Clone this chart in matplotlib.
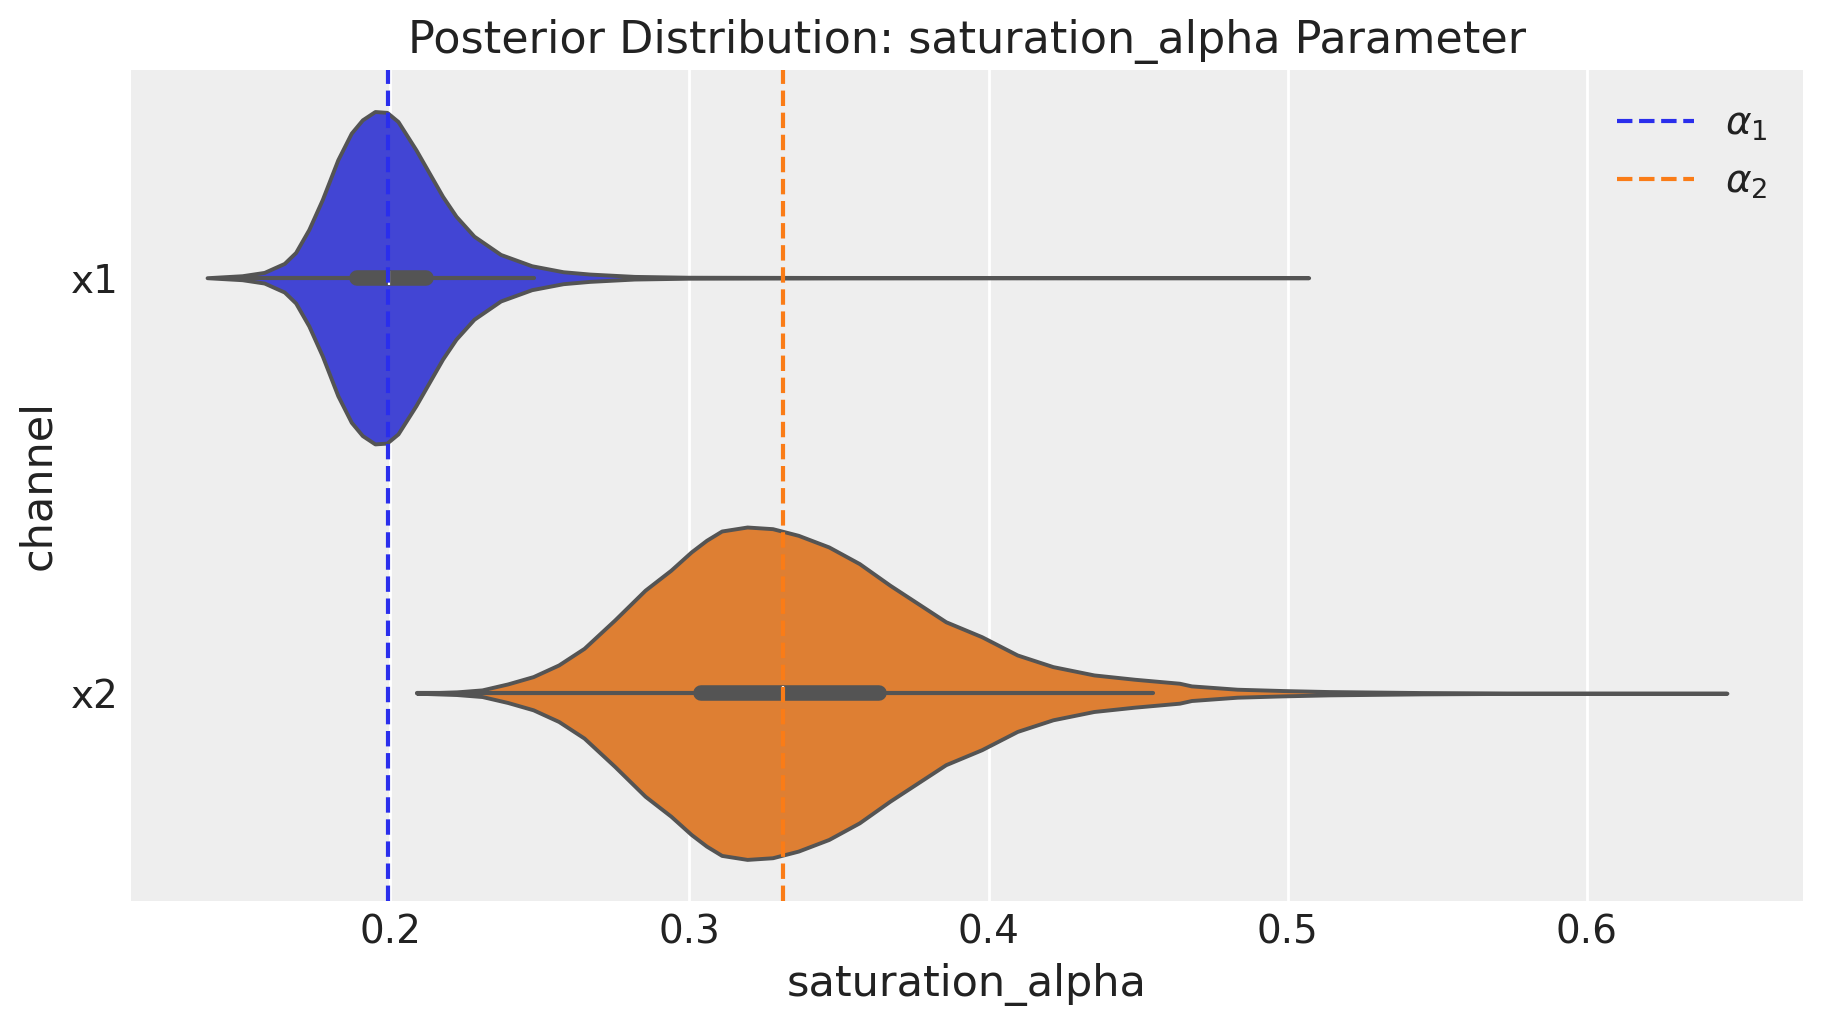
import matplotlib
matplotlib.use("Agg")
import matplotlib.pyplot as plt
import numpy as np

# channels and the violin outlines (relative density)
channels = ["x1", "x2"]

x1_grid = [0.1388, 0.1505, 0.1579, 0.1646, 0.1684, 0.1728, 0.1773, 0.1825, 0.1870,
           0.1907, 0.1949, 0.1989, 0.2026, 0.2086, 0.2175, 0.2220, 0.2280, 0.2369,
           0.2473, 0.2578, 0.2667, 0.2816, 0.2995, 0.35, 0.40, 0.45, 0.507]
x1_density = [0.0, 0.012, 0.032, 0.086, 0.152, 0.29, 0.47, 0.71, 0.87,
              0.95, 1.0, 0.995, 0.94, 0.77, 0.49, 0.37, 0.25, 0.14,
              0.072, 0.036, 0.022, 0.008, 0.003, 0.0015, 0.001, 0.0005, 0.0]

x2_grid = [0.2089, 0.2222, 0.2307, 0.2393, 0.2478, 0.2563, 0.2648, 0.2750, 0.2852,
           0.2938, 0.3006, 0.3057, 0.3108, 0.3193, 0.3278, 0.3364, 0.3466, 0.3568,
           0.3670, 0.3772, 0.3857, 0.3977, 0.4096, 0.4215, 0.4352, 0.4488, 0.4638,
           0.4678, 0.4831, 0.4985, 0.5138, 0.5449, 0.5756, 0.6468]
x2_density = [0.0, 0.008, 0.02, 0.056, 0.10, 0.17, 0.27, 0.44, 0.62,
              0.74, 0.85, 0.92, 0.976, 1.0, 0.99, 0.95, 0.88, 0.78,
              0.65, 0.53, 0.43, 0.34, 0.23, 0.16, 0.11, 0.084, 0.06,
              0.044, 0.024, 0.016, 0.010, 0.004, 0.0012, 0.0]

# box summaries: q1, median, q3, lower whisker, upper whisker
q1 = [0.189, 0.304]
medians = [0.1995, 0.3312]
q3 = [0.212, 0.3635]
whis_lo = [0.150, 0.2089]
whis_hi = [0.248, 0.4548]

# true parameter values
alpha_true = [0.1993, 0.3314]
alpha_labels = [r"$\alpha_1$", r"$\alpha_2$"]

fill_colors = ["#4245d4", "#de7f33"]
line_colors = ["#2a2eec", "#fa7c17"]
gray = "#545454"

plt.rcParams.update({
    "font.family": "DejaVu Sans",
    "text.color": "#222222",
    "axes.labelcolor": "#222222",
    "xtick.color": "#222222",
    "ytick.color": "#222222",
    "axes.facecolor": "#eeeeee",
    "axes.edgecolor": "white",
    "grid.color": "white",
    "grid.linewidth": 1.0,
})

fig, ax = plt.subplots(figsize=(9.115, 5.115), dpi=200)
fig.subplots_adjust(left=0.0719, right=0.989, bottom=0.1193, top=0.9316)

vpstats = []
for grid, dens, med in [(x1_grid, x1_density, medians[0]), (x2_grid, x2_density, medians[1])]:
    vpstats.append({
        "coords": np.array(grid),
        "vals": np.array(dens),
        "mean": med,
        "median": med,
        "min": grid[0],
        "max": grid[-1],
    })

parts = ax.violin(vpstats, positions=[0, 1], orientation="horizontal", widths=0.8,
                  showmeans=False, showextrema=False, showmedians=False)
for body, color in zip(parts["bodies"], fill_colors):
    body.set_facecolor(color)
    body.set_edgecolor(gray)
    body.set_linewidth(1.4)
    body.set_alpha(1)
    body.set_zorder(2)

for i in range(len(channels)):
    ax.plot([whis_lo[i], whis_hi[i]], [i, i], color=gray, lw=1.5,
            solid_capstyle="round", zorder=3)
    ax.plot([q1[i], q3[i]], [i, i], color=gray, lw=5.6,
            solid_capstyle="round", zorder=3)
    ax.plot([medians[i]], [i], marker="|", color="white", markersize=5,
            markeredgewidth=0.8, zorder=4)

for val, lab, col in zip(alpha_true, alpha_labels, line_colors):
    ax.axvline(val, color=col, linestyle="--", lw=1.5, label=lab, zorder=5)

ax.set_yticks(range(len(channels)))
ax.set_yticklabels(channels)
ax.set_ylim(1.5, -0.5)
ax.set_xticks([0.2, 0.3, 0.4, 0.5, 0.6])
ax.grid(axis="x")
ax.grid(axis="y", visible=False)
ax.set_axisbelow(True)
for spine in ax.spines.values():
    spine.set_visible(False)
ax.tick_params(axis="both", length=0, labelsize=14, pad=4.5)

ax.set_xlabel("saturation_alpha", fontsize=15.5)
ax.set_ylabel("channel", fontsize=15.5)
ax.set_title("Posterior Distribution: saturation_alpha Parameter", fontsize=16)
ax.legend(loc="upper right", frameon=False, fontsize=14)

fig.savefig("out.png", dpi=200)
